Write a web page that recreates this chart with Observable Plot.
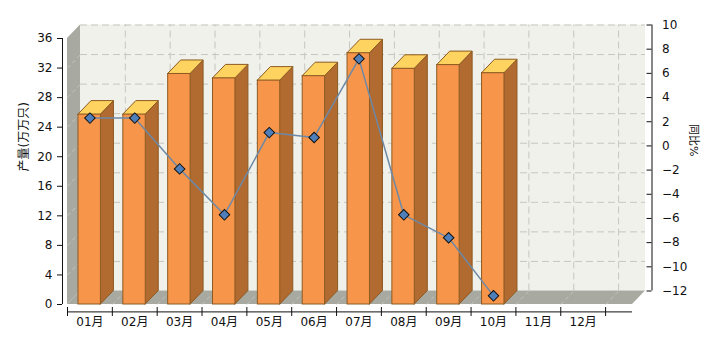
<!DOCTYPE html>
<html>
<head>
<meta charset="utf-8">
<script src="https://cdn.jsdelivr.net/npm/d3@7"></script>
<script src="https://cdn.jsdelivr.net/npm/@observablehq/plot@0.6"></script>
<style>
  html, body { margin: 0; padding: 0; background: #fff; }
  #chart svg { overflow: visible; display: block; }
</style>
</head>
<body>
<div id="chart"></div>
<script>
// ---- data ----
const months = ["01月","02月","03月","04月","05月","06月","07月","08月","09月","10月","11月","12月"];
const output = [25.7, 25.7, 31.2, 30.6, 30.3, 30.9, 34.0, 31.9, 32.4, 31.3];   // 产量 (left axis)
const yoy    = [2.3, 2.3, -1.9, -5.7, 1.1, 0.7, 7.2, -5.7, -7.6, -12.4];      // 同比% (right axis)
const leftTicks  = [0, 4, 8, 12, 16, 20, 24, 28, 32, 36];
const rightTicks = [-12, -10, -8, -6, -4, -2, 0, 2, 4, 6, 8, 10];
const leftTitle  = "产量(万万只)";
const rightTitle = "同比%";

// ---- geometry (in scale units) ----
const W = 720, H = 340;
const mL = 67, mR = 88, mT = 38, mB = 36;
const XMAX = 12.6, YMAX = 36;
const ux = (W - mL - mR) / XMAX;        // px per x unit
const uy = (H - mT - mB) / YMAX;        // px per y unit
const DX = 13 / ux, DY = 13.5 / uy;     // 3D depth offset
const BX1 = 0.245, BX2 = 0.745;         // bar front within band
const RMIN = -12, RMAX = 10;
const rmap = r => (r - RMIN) / (RMAX - RMIN) * YMAX + DY;  // right axis -> y units (back plane)
const XR = XMAX + 19.5 / ux;            // right axis position

const C = {
  front: "#F7964A", side: "#B16A30", top: "#FFD35F", edge: "#8C5A22",
  back: "#F0F1EA", wall: "#A8AAA2", grid: "#C6C6C2", diag: "#C4C6BE",
  line: "#6D89A6", dot: "#4F7FBA"
};

const bars = output.map((v, i) => ({i, v}));
const sideRows = bars.flatMap(d => [
  {id: d.i, x: d.i + BX2, lo: 0, hi: d.v},
  {id: d.i, x: d.i + BX2 + DX, lo: DY, hi: d.v + DY}
]);
const topRows = bars.flatMap(d => [
  {id: d.i, y: d.v, lo: d.i + BX1, hi: d.i + BX2},
  {id: d.i, y: d.v + DY, lo: d.i + BX1 + DX, hi: d.i + BX2 + DX}
]);
const linePts = yoy.map((r, i) => ({x: i + 0.5, y: rmap(r)}));
const bounds = d3.range(0, 13);

const font = "'DejaVu Sans', 'Noto Sans CJK SC', sans-serif";

const chart = Plot.plot({
  width: W, height: H,
  marginLeft: mL, marginRight: mR, marginTop: mT, marginBottom: mB,
  x: {domain: [0, XMAX], axis: null},
  y: {domain: [0, YMAX], axis: null},
  style: {fontFamily: font, fontSize: "12px", color: "#111", background: "#fff", overflow: "visible"},
  marks: [
    // back wall
    Plot.rect([0], {x1: DX, x2: XMAX + DX, y1: DY, y2: YMAX + DY, fill: C.back}),
    // left wall
    Plot.area([{x: 0, lo: 0, hi: YMAX}, {x: DX, lo: DY, hi: YMAX + DY}], {x1: "x", y1: "lo", y2: "hi", fill: C.wall}),
    // floor
    Plot.area([{y: 0, lo: 0, hi: XMAX}, {y: DY, lo: DX, hi: XMAX + DX}], {y1: "y", x1: "lo", x2: "hi", fill: C.wall}),
    // grid on back wall
    Plot.ruleY(leftTicks.slice(1), {y: d => d + DY, x1: DX, x2: XMAX + DX, stroke: C.grid, strokeDasharray: "7,4"}),
    Plot.ruleX(bounds.slice(1), {x: d => d + DX, y1: DY, y2: YMAX + DY, stroke: C.grid, strokeDasharray: "7,4"}),
    // diagonals on walls
    Plot.link(leftTicks.slice(1, -1), {x1: 0, y1: d => d, x2: DX, y2: d => d + DY, stroke: C.diag, strokeDasharray: "4,3"}),
    Plot.link(bounds.slice(1), {x1: d => d, y1: 0, x2: d => d + DX, y2: DY, stroke: C.diag, strokeDasharray: "4,3"}),
    // bars
    Plot.area(sideRows, {x1: "x", y1: "lo", y2: "hi", z: "id", fill: C.side, stroke: C.edge, strokeWidth: 1}),
    Plot.area(topRows, {y1: "y", x1: "lo", x2: "hi", z: "id", fill: C.top, stroke: C.edge, strokeWidth: 1}),
    Plot.rect(bars, {x1: d => d.i + BX1, x2: d => d.i + BX2, y1: 0, y2: d => d.v, fill: C.front, stroke: C.edge, strokeWidth: 1}),
    // line + markers
    Plot.line(linePts, {x: "x", y: "y", stroke: C.line, strokeWidth: 1.5}),
    Plot.dot(linePts, {x: "x", y: "y", symbol: "square", r: 4.2, rotate: 45, fill: C.dot, stroke: "#111", strokeWidth: 1}),
    // left axis
    Plot.ruleX([0], {y1: 0, y2: YMAX, dx: -5, stroke: "#111"}),
    Plot.axisY({ticks: leftTicks, tickSize: 5, tickPadding: 5, dx: -5, label: null, fontSize: 12, stroke: "#111"}),
    Plot.text([leftTitle], {frameAnchor: "left", dx: -43, rotate: -90, fontSize: 12, fill: "#111"}),
    // bottom axis
    Plot.ruleY([0], {x1: 0, x2: XMAX, dy: 7.4, stroke: "#111"}),
    Plot.axisX({ticks: bounds, tickFormat: () => "", tickSize: 9, dy: 3, label: null, stroke: "#111"}),
    Plot.text(months, {x: (d, i) => i + 0.5, frameAnchor: "bottom", dy: 21, fontSize: 12, fill: "#111"}),
    // right axis
    Plot.ruleX([XR], {y1: DY, y2: YMAX + DY, stroke: "#111"}),
    Plot.ruleY(rightTicks, {y: rmap, x1: XR - 5 / ux, x2: XR, stroke: "#111"}),
    Plot.text(rightTicks, {x: XR, y: rmap, dx: 10, textAnchor: "start", fontSize: 12, fill: "#111",
      text: d => d < 0 ? "\u2212" + Math.abs(d) : String(d)}),
    Plot.text([rightTitle], {frameAnchor: "right", dx: 61, dy: -15, rotate: 90, fontSize: 11, fill: "#111"})
  ]
});
document.getElementById("chart").appendChild(chart);
</script>
</body>
</html>
